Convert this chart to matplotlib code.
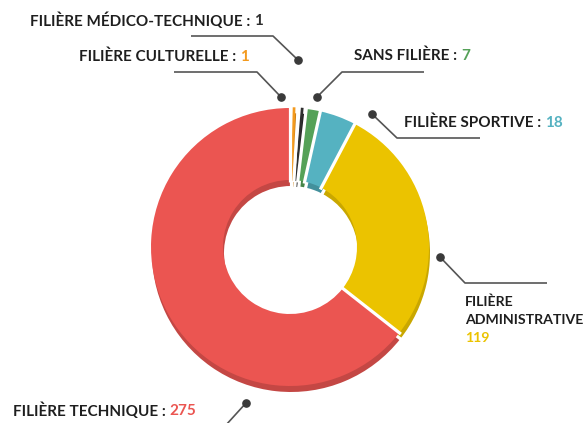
import numpy as np
import matplotlib
matplotlib.use("Agg")
import matplotlib.pyplot as plt

W, H = 586, 423

categories = ["Filière culturelle", "Filière médico-technique", "Sans filière",
              "Filière sportive", "Filière administrative", "Filière technique"]
values = [1, 1, 7, 18, 119, 275]
colors = ["#F39A1E", "#2E2E2E", "#55A158", "#55B2C1", "#EBC300", "#EB5551"]
shadow_colors = ["#C97F18", "#1E1E1E", "#468548", "#43909C", "#C9A700", "#C44744"]

fig = plt.figure(figsize=(W / 100, H / 100), dpi=100)
ax = fig.add_axes([0, 0, 1, 1])
ax.set_xlim(0, W)
ax.set_ylim(0, H)
ax.set_aspect("equal")
ax.axis("off")

def Y(y):
    return H - y

cx, cy, R, r = 290, 247, 139, 67

# minimum visible angle for very small slices (like a chart "min slice size")
total = sum(values)
MIN_FRAC = 3.4 / 360
weights = [max(v / total, MIN_FRAC) for v in values]
tiny = [v / total < MIN_FRAC for v in values]

def draw_pie(cols, center, z):
    wedges, _ = ax.pie(weights, colors=cols, center=center, startangle=90,
                       counterclock=False, radius=R,
                       wedgeprops=dict(width=R - r, edgecolor="none", linewidth=0))
    bounds = set()
    for w in wedges:
        w.set_zorder(z)
        bounds.add(round(w.theta1 % 360, 6))
        bounds.add(round(w.theta2 % 360, 6))
    for w, t, c in zip(wedges, tiny, cols):
        if t:
            mid = (w.theta1 + w.theta2) / 2
            w.set_theta1(mid - 0.25)
            w.set_theta2(mid + 0.25)
            w.set_edgecolor(c)
            w.set_linewidth(1.1)
    # white radial gaps between slices
    for b in bounds:
        a = np.deg2rad(b)
        xs = [center[0] + (r - 2) * np.cos(a), center[0] + (R + 2) * np.cos(a)]
        ys = [center[1] + (r - 2) * np.sin(a), center[1] + (R + 2) * np.sin(a)]
        ax.plot(xs, ys, color="white", lw=2.3, solid_capstyle="butt", zorder=z + 0.5)
    return wedges

draw_pie(shadow_colors, (cx + 1, Y(cy) - 6), 1)
draw_pie(colors, (cx, Y(cy)), 2)
ax.set_xlim(0, W)
ax.set_ylim(0, H)

FONT = ["Lato", "DejaVu Sans"]
FS = 11
TXT = "#1E1E1E"
LINE = "#555555"

def leader(points):
    xs = [p[0] for p in points]
    ys = [Y(p[1]) for p in points]
    ax.plot(xs, ys, color=LINE, lw=1.2, solid_capstyle="butt", zorder=5)
    ax.plot([xs[0]], [ys[0]], "o", color="#3A3A3A", ms=5.2, zorder=6)

def label(x, y, name, val, vcolor):
    t = ax.text(x, Y(y), name.upper() + " : ", fontsize=FS, fontweight="bold",
                family=FONT, color=TXT, va="center", ha="left")
    fig.canvas.draw()
    bb = t.get_window_extent()
    ax.text(bb.x1, Y(y), str(val), fontsize=FS, fontweight="bold",
            family=FONT, color=vcolor, va="center", ha="left")

# médico-technique
leader([(298, 60), (273, 36), (191, 36)])
label(30, 21, categories[1], values[1], colors[1])
# culturelle
leader([(281, 97), (257, 72), (174, 72)])
label(79, 57, categories[0], values[0], colors[0])
# sans filière
leader([(317, 97), (342, 72), (424, 72)])
label(354, 56, categories[2], values[2], colors[2])
# sportive
leader([(372, 114), (397, 138), (480, 138)])
label(404, 123, categories[3], values[3], colors[3])
# administrative
FS2 = 10.2
leader([(440, 257), (465, 283), (547, 283)])
ax.text(465, Y(302), "FILIÈRE", fontsize=FS2, fontweight="bold", family=FONT,
        color=TXT, va="center")
ax.text(465, Y(320), "ADMINISTRATIVE", fontsize=FS2, fontweight="bold", family=FONT,
        color=TXT, va="center")
ax.text(465, Y(338), str(values[4]), fontsize=FS2, fontweight="bold", family=FONT,
        color=colors[4], va="center")
# technique
leader([(246, 403), (226, 425)])
label(13, 411, categories[5], values[5], colors[5])

fig.savefig("out.png", dpi=100)
